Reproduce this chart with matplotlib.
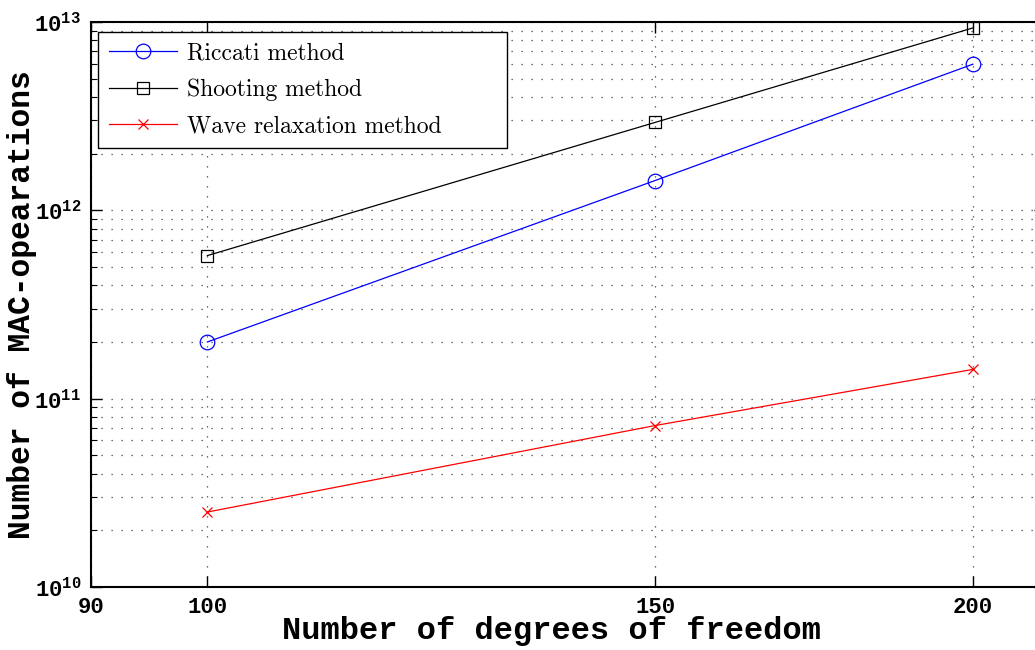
import numpy as np
import matplotlib
matplotlib.use("Agg")
import matplotlib.pyplot as plt
from matplotlib.ticker import FixedLocator, FixedFormatter, LogLocator, NullLocator, LogFormatterMathtext

# Data
dof = [100, 150, 200]
riccati = [2.0e11, 1.44e12, 5.97e12]
shooting = [5.75e11, 2.93e12, 9.3e12]
wave = [2.5e10, 7.2e10, 1.43e11]

x_ticks = [90, 100, 150, 200]

plt.rcParams['font.family'] = ['Liberation Mono', 'DejaVu Sans Mono']
plt.rcParams['font.weight'] = 'bold'

fig = plt.figure(figsize=(10.35, 6.5), dpi=100)
ax = fig.add_axes([91/1035, 63/650, 954/1035, 565/650])

ax.plot(dof, riccati, color='#0000ff', lw=0.9, marker='o', ms=10.5,
        mfc='none', mec='#0000ff', mew=0.9, label='Riccati method')
ax.plot(dof, shooting, color='black', lw=0.9, marker='s', ms=8.5,
        mfc='none', mec='black', mew=0.9, label='Shooting method')
ax.plot(dof, wave, color='#ff0000', lw=0.9, marker='x', ms=7.5,
        mec='#ff0000', mew=0.9, label='Wave relaxation method' + ' ' * 7)

ax.set_xscale('log')
ax.set_yscale('log')
ax.set_xlim(90, 213.5)
ax.set_ylim(1e10, 1e13)

ax.xaxis.set_major_locator(FixedLocator(x_ticks))
ax.xaxis.set_major_formatter(FixedFormatter([str(t) for t in x_ticks]))
ax.xaxis.set_minor_locator(NullLocator())
ax.yaxis.set_major_locator(LogLocator(base=10, numticks=10))
ax.yaxis.set_major_formatter(LogFormatterMathtext())
ax.yaxis.set_minor_locator(LogLocator(base=10, subs=np.arange(2, 10), numticks=20))

ax.tick_params(which='both', direction='in', top=True, right=True, labelsize=16, pad=7)
ax.tick_params(which='major', length=8, width=1)
ax.tick_params(which='minor', length=4, width=0.8)

ax.grid(True, which='major', axis='both', ls=(0, (1, 7)), lw=0.9, color='0.25')
ax.grid(True, which='minor', axis='y', ls=(0, (1, 7)), lw=0.9, color='0.25')

for s in ax.spines.values():
    s.set_linewidth(1.5)

ax.set_xlabel('Number of degrees of freedom', fontsize=23, fontweight='bold')
ax.xaxis.set_label_coords((551 - 91) / 954, -29.5 / 565)
ax.set_ylabel('Number of MAC-opearations', fontsize=22.5, fontweight='bold')
ax.yaxis.set_label_coords((37 - 91) / 954, 0.5)

leg = ax.legend(loc='upper left', bbox_to_anchor=(7/954, 1 - 10/565), borderaxespad=0,
                prop={'family': 'cmr10', 'size': 17}, handlelength=2.9, handletextpad=0.4,
                borderpad=0.45, labelspacing=0.6, fancybox=False, framealpha=1,
                edgecolor='black')
leg.get_frame().set_linewidth(1.0)

fig.savefig('out.png', dpi=100)
